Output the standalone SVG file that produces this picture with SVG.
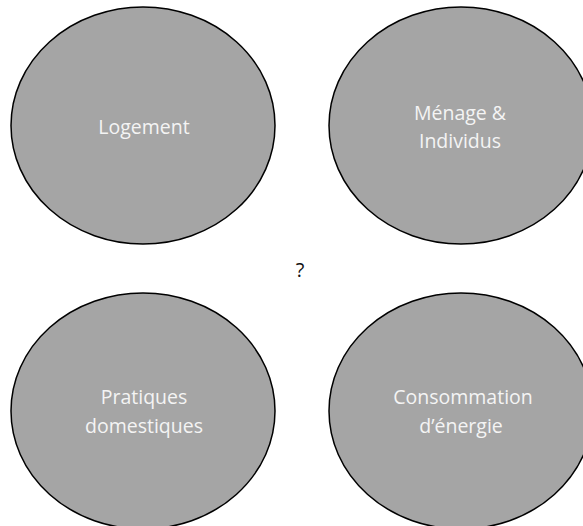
<svg xmlns="http://www.w3.org/2000/svg" width="583" height="526" viewBox="0 0 583 526">
<style>
.n{fill:#a5a5a5;stroke:#000;stroke-width:1.5}
.t{font-family:"Open Sans","Noto Sans",sans-serif;font-size:19.5px;fill:#f4f4f4;text-anchor:middle}
.q{font-family:"Open Sans","Noto Sans",sans-serif;font-size:20px;fill:#111;text-anchor:middle}
</style>
<rect width="583" height="526" fill="#fff"/>
<g id="logement">
<ellipse class="n" cx="143" cy="125.5" rx="132" ry="118.5"/>
<text class="t" x="144" y="134">Logement</text>
</g>
<g id="menage">
<ellipse class="n" cx="461" cy="125.5" rx="132" ry="118.5"/>
<text class="t" x="460" y="120">Ménage &amp;</text>
<text class="t" x="460" y="148">Individus</text>
</g>
<g id="pratiques">
<ellipse class="n" cx="143" cy="411" rx="132" ry="118"/>
<text class="t" x="144" y="404">Pratiques</text>
<text class="t" x="144" y="433">domestiques</text>
</g>
<g id="consommation">
<ellipse class="n" cx="461" cy="411" rx="132" ry="118"/>
<text class="t" x="463" y="404">Consommation</text>
<text class="t" x="461" y="433">d’énergie</text>
</g>
<g id="connectors"></g>
<text class="q" x="300" y="277">?</text>
</svg>
